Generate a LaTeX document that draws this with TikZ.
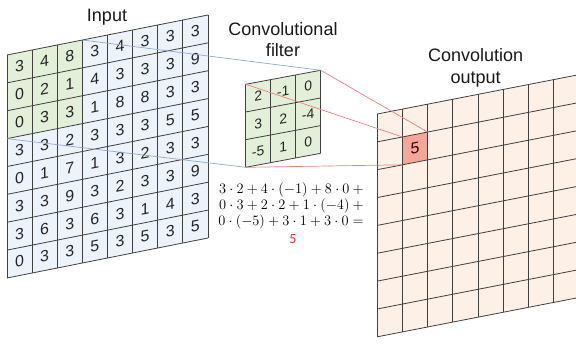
\documentclass[tikz,border=0pt]{standalone}
\usepackage{fontspec}
\setmainfont{Liberation Sans}
\newfontfamily\carl{Carlito}
\definecolor{infill}{HTML}{EDF3FB}
\definecolor{grfill}{HTML}{E2F0D9}
\definecolor{outfill}{HTML}{FDF0E7}
\definecolor{hotfill}{HTML}{F6A697}
\definecolor{gridc}{HTML}{404040}
\definecolor{blueln}{HTML}{8FA9D8}
\definecolor{redln}{HTML}{EE7F7F}
\definecolor{resred}{HTML}{E3302A}
\begin{document}
\begin{tikzpicture}[x=1pt,y=1pt,
  gridline/.style={draw=gridc,line width=0.8pt},
  indigit/.style={inner sep=0pt,transform shape,text=black!85,font=\fontsize{16}{16}\selectfont},
  fdigit/.style={inner sep=0pt,transform shape,text=black!85,font=\fontsize{14}{14}\selectfont},
  title/.style={inner sep=0pt,align=center,text=black!90,font=\fontsize{18}{21.5}\selectfont},
  blueconn/.style={draw=blueln,line width=0.7pt},
  redconn/.style={draw=redln,line width=0.7pt}]
\useasboundingbox (0,0) rectangle (576,-343);
\clip (0,0) rectangle (576,-343);
% ---------- input ----------
\begin{scope}[shift={(7,-55)},yslant=0.199]
  \def\cw{25.125}\def\ch{27.875}
  \fill[infill] (0,0) rectangle ({8*\cw},{-8*\ch});
  \fill[grfill] (0,0) rectangle ({3*\cw},{-3*\ch});
  \foreach \i in {0,...,8} \draw[gridline] ({\i*\cw},0) -- ({\i*\cw},{-8*\ch});
  \foreach \j in {0,...,8} \draw[gridline] (0,{-\j*\ch}) -- ({8*\cw},{-\j*\ch});
  \foreach \row [count=\j from 0] in {{3,4,8,3,4,3,3,3},{0,2,1,4,3,3,3,9},{0,3,3,1,8,8,3,3},{3,3,2,3,3,3,5,5},{0,1,7,1,3,2,3,3},{3,3,9,3,2,3,3,9},{3,6,3,6,3,1,4,3},{0,3,3,5,3,5,3,5}}
    \foreach \v [count=\i from 0] in \row
      \node[indigit] (in-\j-\i) at ({(\i+0.5)*\cw},{-(\j+0.5)*\ch}) {\v};
  \coordinate (inGTR) at ({3*\cw},0);
  \coordinate (inGBL) at (0,{-3*\ch});
\end{scope}
% ---------- filter ----------
\begin{scope}[shift={(245.7,-84.3)},yslant=0.187]
  \def\cw{25}\def\ch{27.67}
  \fill[grfill] (0,0) rectangle ({3*\cw},{-3*\ch});
  \foreach \i in {0,...,3} \draw[gridline] ({\i*\cw},0) -- ({\i*\cw},{-3*\ch});
  \foreach \j in {0,...,3} \draw[gridline] (0,{-\j*\ch}) -- ({3*\cw},{-\j*\ch});
  \foreach \row [count=\j from 0] in {{2,-1,0},{3,2,-4},{-5,1,0}}
    \foreach \v [count=\i from 0] in \row
      \node[fdigit] (f-\j-\i) at ({(\i+0.5)*\cw},{-(\j+0.5)*\ch}) {\v};
  \coordinate (fTL) at (0,0);
  \coordinate (fTR) at ({3*\cw},0);
  \coordinate (fBL) at (0,{-3*\ch});
\end{scope}
% ---------- output ----------
\begin{scope}[shift={(377.3,-114)},yslant=0.195]
  \def\cw{25.15}\def\ch{27.85}
  \fill[outfill] (0,0) rectangle ({8*\cw},{-8*\ch});
  \fill[hotfill] (\cw,-\ch) rectangle ({2*\cw},{-2*\ch});
  \foreach \i in {0,...,8} \draw[gridline] ({\i*\cw},0) -- ({\i*\cw},{-8*\ch});
  \foreach \j in {0,...,8} \draw[gridline] (0,{-\j*\ch}) -- ({8*\cw},{-\j*\ch});
  \node[indigit,text=black!80!red] (o-1-1) at ({1.5*\cw},{-1.5*\ch}) {5};
  \coordinate (oTL) at (\cw,-\ch);
  \coordinate (oTR) at ({2*\cw},-\ch);
  \coordinate (oBL) at (\cw,{-2*\ch});
\end{scope}
% ---------- connectors ----------
\draw[blueconn] (inGTR) -- (fTR);
\draw[blueconn] (inGBL) -- (fBL);
\draw[redconn] (fTR) -- (oTR);
\draw[redconn] (fTL) -- (oTL);
\draw[redconn] (fBL) -- (oBL);
% ---------- titles ----------
\node[title,anchor=base] (tin) at (107,-21.7) {Input};
\node[title,anchor=north] (tfil) at (283,-22) {Convolutional\\filter};
\node[title,anchor=north] (tout) at (475.7,-48.3) {Convolution\\output};
% ---------- equation ----------
\node[inner sep=0pt,anchor=north,align=center,text=black,font=\fontsize{14}{16.3}\selectfont] (eq) at (293,-182)
  {$3\cdot2+4\cdot(-1)+8\cdot0+{}$\\
   $0\cdot3+2\cdot2+1\cdot(-4)+{}$\\
   $0\cdot(-5)+3\cdot1+3\cdot0={}$\\[2pt]
   {\carl\color{resred}5}};
\end{tikzpicture}
\end{document}
